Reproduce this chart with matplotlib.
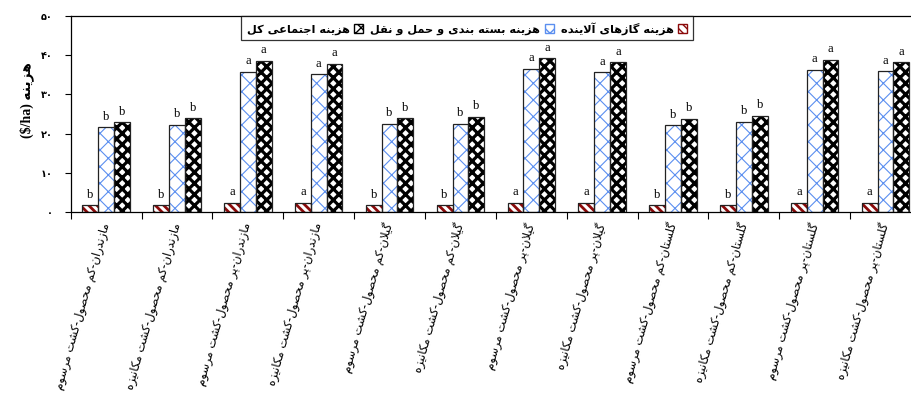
import unicodedata
import numpy as np
import matplotlib
matplotlib.use("Agg")
import matplotlib.pyplot as plt
from matplotlib.patches import Patch

# ---------------- data ----------------
categories = [
    "مازندران-کم محصول-کشت مرسوم",
    "مازندران-کم محصول-کشت مکانیزه",
    "مازندران-پر محصول-کشت مرسوم",
    "مازندران-پر محصول-کشت مکانیزه",
    "گیلان-کم محصول-کشت مرسوم",
    "گیلان-کم محصول-کشت مکانیزه",
    "گیلان-پر محصول-کشت مرسوم",
    "گیلان-پر محصول-کشت مکانیزه",
    "گلستان-کم محصول-کشت مرسوم",
    "گلستان-کم محصول-کشت مکانیزه",
    "گلستان-پر محصول-کشت مرسوم",
    "گلستان-پر محصول-کشت مکانیزه",
]
pollutant_cost = [1.7, 1.7, 2.4, 2.3, 1.7, 1.7, 2.4, 2.4, 1.7, 1.7, 2.4, 2.4]
transport_cost = [21.6, 22.3, 35.8, 35.1, 22.4, 22.5, 36.6, 35.6, 22.1, 23.0, 36.2, 35.9]
total_cost = [22.9, 23.9, 38.5, 37.8, 23.9, 24.2, 39.2, 38.2, 23.7, 24.6, 38.9, 38.2]

pollutant_letters = ["b", "b", "a", "a", "b", "b", "a", "a", "b", "b", "a", "a"]
transport_letters = ["b", "b", "a", "a", "b", "b", "a", "a", "b", "b", "a", "a"]
total_letters = ["b", "b", "a", "a", "b", "b", "a", "a", "b", "b", "a", "a"]

series_names = ["هزینه گازهای آلاینده", "هزینه بسته بندی و حمل و نقل", "هزینه اجتماعی کل"]
y_label_word = "هزینه"
y_label_unit = r"(\$/ha)"
y_ticks = [0, 10, 20, 30, 40, 50]


# ---------------- minimal Persian shaping (presentation forms) ----------------
def _forms(ch):
    out = {}
    try:
        name = unicodedata.name(ch)
    except ValueError:
        return out
    for f in ("ISOLATED", "FINAL", "INITIAL", "MEDIAL"):
        try:
            out[f] = unicodedata.lookup(name + " " + f + " FORM")
        except KeyError:
            pass
    return out


LAM = "\u0644"
LIGS = {"\u0627": "ARABIC LIGATURE LAM WITH ALEF",
        "\u0622": "ARABIC LIGATURE LAM WITH ALEF WITH MADDA ABOVE"}


def fa(s):
    tokens = []
    i = 0
    while i < len(s):
        ch = s[i]
        if ch == LAM and i + 1 < len(s) and s[i + 1] in LIGS:
            base = LIGS[s[i + 1]]
            forms = {"ISOLATED": unicodedata.lookup(base + " ISOLATED FORM"),
                     "FINAL": unicodedata.lookup(base + " FINAL FORM")}
            tokens.append((ch, forms))
            i += 2
            continue
        tokens.append((ch, _forms(ch)))
        i += 1
    out = []
    for k, (ch, forms) in enumerate(tokens):
        if "ISOLATED" not in forms:
            out.append(ch)
            continue
        prev_j = k > 0 and "INITIAL" in tokens[k - 1][1]
        next_j = ("INITIAL" in forms and k + 1 < len(tokens)
                  and "ISOLATED" in tokens[k + 1][1])
        if prev_j and next_j:
            out.append(forms["MEDIAL"])
        elif prev_j:
            out.append(forms.get("FINAL", forms["ISOLATED"]))
        elif next_j:
            out.append(forms["INITIAL"])
        else:
            out.append(forms["ISOLATED"])
    return "".join(out)[::-1]


def fa_digits(n):
    return "".join(chr(0x06F0 + int(d)) for d in str(n))


# ---------------- figure ----------------
fig = plt.figure(figsize=(9.12, 4.0), dpi=100)
ax = fig.add_axes([70.7 / 912, 188 / 400, 850.3 / 912, 196 / 400])

x = np.arange(len(categories))
w = 0.223

hatch_specs = [
    dict(vals=pollutant_cost, letters=pollutant_letters, hatch="\\\\\\\\", color="#8b0a0a", hlw=2.0, off=-w),
    dict(vals=transport_cost, letters=transport_letters, hatch="xx", color="#5b8ff0", hlw=0.8, off=0.0),
    dict(vals=total_cost, letters=total_letters, hatch="xxx", color="black", hlw=2.3, off=w),
]

handles = []
for spec, name in zip(hatch_specs, series_names):
    with plt.rc_context({"hatch.linewidth": spec["hlw"], "hatch.color": spec["color"]}):
        bars = ax.bar(x + spec["off"], spec["vals"], width=w, facecolor="white",
                      edgecolor=spec["color"], hatch=spec["hatch"], linewidth=0, zorder=2)
        for b in bars:
            if hasattr(b, "set_hatch_linewidth"):
                b.set_hatch_linewidth(spec["hlw"])
        ax.bar(x + spec["off"], spec["vals"], width=w, fill=False,
               edgecolor="#222222", linewidth=0.9, zorder=3)
        h = Patch(facecolor="white", edgecolor=spec["color"], hatch=spec["hatch"], linewidth=1.0)
        if hasattr(h, "set_hatch_linewidth"):
            h.set_hatch_linewidth(spec["hlw"])
        h._fa_label = fa(name)
        handles.append(h)
    for xi, v, lt in zip(x + spec["off"], spec["vals"], spec["letters"]):
        ax.text(xi, v + 1.2, lt, ha="center", va="bottom", fontsize=9,
                family="Liberation Serif", zorder=4)

ax.set_xlim(-0.5, 11.5)
ax.set_ylim(0, 50)

# y axis
ax.set_yticks(y_ticks)
ax.set_yticklabels([fa_digits(t) for t in y_ticks], fontsize=7, fontweight="bold",
                   family="DejaVu Sans")
ax.tick_params(axis="y", direction="out", length=4, width=0.8, pad=9)

# x axis: ticks at group boundaries, labels at centres
ax.set_xticks(np.arange(-0.5, 12.0, 1.0), minor=True)
ax.tick_params(axis="x", which="minor", direction="out", length=5, width=0.8)
ax.set_xticks(x)
ax.tick_params(axis="x", which="major", length=0, pad=8)
ax.set_xticklabels([fa(c) for c in categories], rotation=74, ha="right",
                   va="center", rotation_mode="anchor", fontsize=8.4,
                   family="DejaVu Sans")

for s in ["top", "left", "bottom", "right"]:
    ax.spines[s].set_linewidth(0.9)

# y label
fig.text(27 / 912, 1 - 100 / 400, y_label_unit + " " + fa(y_label_word), rotation=90,
         ha="center", va="center", fontsize=10, fontweight="bold",
         family=["Liberation Serif", "DejaVu Sans"])

# legend (marker to the right of text, RTL order)
order = [2, 1, 0]
leg = ax.legend([handles[i] for i in order], [handles[i]._fa_label for i in order],
                ncol=3, loc="upper center", bbox_to_anchor=(0.466, 1.0),
                borderaxespad=0, markerfirst=False, frameon=True, fancybox=False,
                handlelength=0.8, handleheight=0.8, handletextpad=0.4,
                columnspacing=0.6, borderpad=0.5,
                prop={"family": "DejaVu Sans", "weight": "bold", "size": 8.2})
leg.get_frame().set_edgecolor("black")
leg.get_frame().set_linewidth(0.9)
leg.set_zorder(5)

fig.savefig("out.png", dpi=100)
